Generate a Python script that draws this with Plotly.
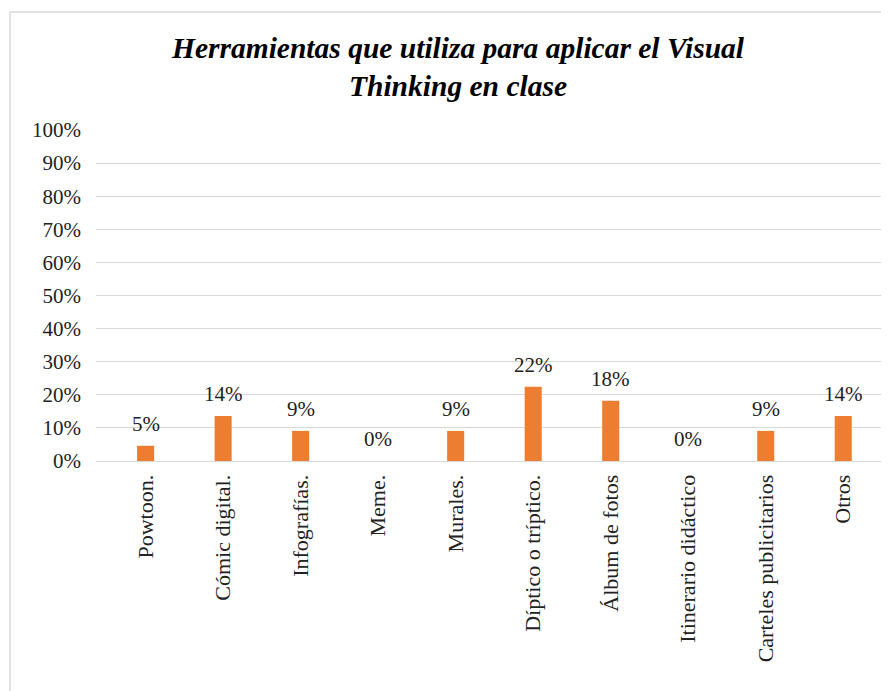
import plotly.graph_objects as go

categories = ["Powtoon.", "Cómic digital.", "Infografías.", "Meme.", "Murales.",
              "Díptico o tríptico.", "Álbum de fotos", "Itinerario didáctico",
              "Carteles publicitarios", "Otros"]
values = [0.046, 0.136, 0.091, 0.0, 0.091, 0.224, 0.182, 0.0, 0.091, 0.136]
y_ticks = [0, 0.1, 0.2, 0.3, 0.4, 0.5, 0.6, 0.7, 0.8, 0.9, 1.0]
y_tick_labels = ["0%", "10%", "20%", "30%", "40%", "50%", "60%", "70%", "80%", "90%", "100%"]
title_text = "<b><i>Herramientas que utiliza para aplicar el Visual<br>Thinking en clase</i></b>"

FONT = "Liberation Serif"

# page body has an 8px margin; build the figure in page coordinates minus 8
OFF = 8
W, H = 889 - OFF, 691 - OFF
L, R, T = 96 - OFF, 889 - 882, 130 - OFF
B = H - (461 - OFF)
pw = W - L - R
ph = H - T - B

def px_x(p):
    return (p - OFF - L) / pw

def px_y(p):
    return (H - B - (p - OFF)) / ph

fig = go.Figure()
fig.add_trace(go.Bar(
    x=categories, y=values,
    marker=dict(color="#ED7D31", line=dict(width=0)),
    width=0.22,
    hovertemplate="%{x}: %{y:.0%}<extra></extra>",
))

for c, v in zip(categories, values):
    fig.add_annotation(x=c, y=v, xref="x", yref="y", text=f"{v:.0%}",
                       showarrow=False, yanchor="middle", yshift=22,
                       font=dict(family=FONT, size=21, color="#222222"))

fig.update_layout(
    width=W, height=H,
    margin=dict(l=L, r=R, t=T, b=B, autoexpand=False),
    paper_bgcolor="white", plot_bgcolor="white",
    showlegend=False,
    title=dict(text=title_text, x=(458 - OFF) / W, xref="container", xanchor="center",
               y=1 - (58 - OFF) / H, yanchor="middle",
               font=dict(family=FONT, size=29.5, color="#000000")),
    font=dict(family=FONT, size=21, color="#222222"),
    xaxis=dict(range=[-0.64, 9.5], tickangle=-90, showgrid=False,
               showline=True, linecolor="#D9D9D9", linewidth=1,
               ticks="", ticklabelstandoff=4,
               tickfont=dict(family=FONT, size=22, color="#222222"),
               fixedrange=True),
    yaxis=dict(range=[0, 1.0], tickvals=y_ticks, ticktext=y_tick_labels,
               showgrid=True, gridcolor="#D9D9D9", gridwidth=1.3,
               zeroline=False, showline=False, ticks="",
               ticklabelstandoff=14,
               tickfont=dict(family=FONT, size=21, color="#222222"),
               fixedrange=True),
    shapes=[dict(type="rect", xref="paper", yref="paper",
                 x0=px_x(10), x1=px_x(900), y0=px_y(720), y1=px_y(12),
                 line=dict(color="#D9D9D9", width=1.5), fillcolor="rgba(0,0,0,0)",
                 layer="below")],
)

fig.write_html("out.html")
